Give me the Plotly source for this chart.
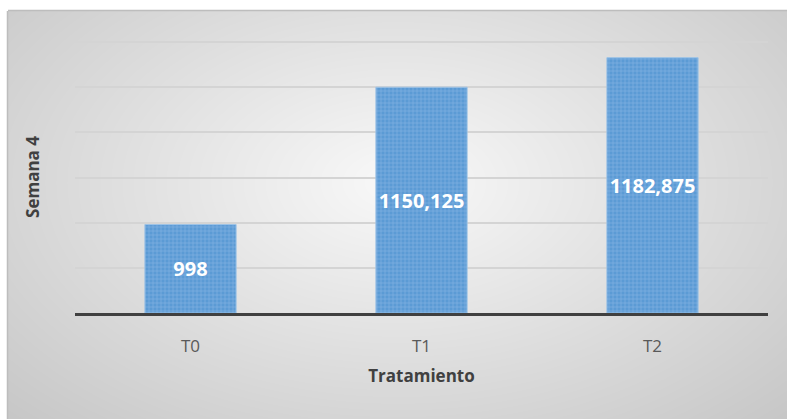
import base64
import struct
import zlib

import numpy as np
import plotly.graph_objects as go

# Data
tratamientos = ["T0", "T1", "T2"]
semana4 = [998, 1150.125, 1182.875]
etiquetas = [str(v).replace(".", ",") for v in semana4]
eje_min = 900
eje_max = 1200
lineas_guia = [950, 1000, 1050, 1100, 1150, 1200]

W, H = 787, 419
BOX_X0, BOX_Y0 = 8, 11
ML, MR, MT, MB = 75, 19, 41, 106
PW, PH = W - ML - MR, H - MT - MB


def radial_png(w, h):
    """Light-centre radial gradient for the chart area, encoded as PNG."""
    yy, xx = np.mgrid[0:h, 0:w].astype(float)
    cx, cy = w * 0.5, h * 0.42
    r = np.sqrt(((xx - cx) / (w * 0.5)) ** 2 + ((yy - cy) / (h * 0.58)) ** 2) / np.sqrt(2)
    r = np.clip(r, 0, 1)
    c = (249 - 50 * r).astype(np.uint8)
    raw = b"".join(b"\x00" + np.repeat(row[:, None], 3, axis=1).tobytes() for row in c)

    def chunk(tag, data):
        return (struct.pack(">I", len(data)) + tag + data
                + struct.pack(">I", zlib.crc32(tag + data) & 0xFFFFFFFF))

    png = (b"\x89PNG\r\n\x1a\n"
           + chunk(b"IHDR", struct.pack(">IIBBBBB", w, h, 8, 2, 0, 0, 0))
           + chunk(b"IDAT", zlib.compress(raw, 9))
           + chunk(b"IEND", b""))
    return "data:image/png;base64," + base64.b64encode(png).decode()


bg_w, bg_h = W - BOX_X0, H - BOX_Y0

fig = go.Figure(
    go.Bar(
        x=tratamientos,
        y=[v - eje_min for v in semana4],
        base=eje_min,
        width=0.395,
        text=etiquetas,
        textposition="inside",
        insidetextanchor="middle",
        textangle=0,
        constraintext="none",
        textfont=dict(family="Open Sans", size=20, color="white", weight="bold"),
        marker=dict(
            color="#5b9bd5",
            line=dict(color="#9dc3e6", width=1),
            pattern=dict(shape="+", fgcolor="#a8c9ec", bgcolor="#5b9bd5",
                         size=4, solidity=0.3),
        ),
        hoverinfo="skip",
    )
)

fig.add_layout_image(
    dict(source=radial_png(bg_w, bg_h), xref="paper", yref="paper",
         x=-(ML - BOX_X0) / PW, y=1 + (MT - BOX_Y0) / PH,
         sizex=bg_w / PW, sizey=bg_h / PH,
         xanchor="left", yanchor="top", sizing="stretch", layer="below")
)

# Chart-area border (top and left edges visible)
fig.add_shape(type="line", xref="paper", yref="paper",
              x0=-(ML - BOX_X0) / PW, x1=1 + MR / PW,
              y0=1 + (MT - BOX_Y0 + 0.5) / PH, y1=1 + (MT - BOX_Y0 + 0.5) / PH,
              line=dict(color="#bdbdbd", width=1.5))
fig.add_shape(type="line", xref="paper", yref="paper",
              x0=-(ML - BOX_X0 + 0.5) / PW, x1=-(ML - BOX_X0 + 0.5) / PW,
              y0=-MB / PH, y1=1 + (MT - BOX_Y0) / PH,
              line=dict(color="#bdbdbd", width=1.5))

fig.update_layout(
    width=W,
    height=H,
    margin=dict(l=ML, r=MR, t=MT, b=MB),
    paper_bgcolor="white",
    plot_bgcolor="rgba(0,0,0,0)",
    showlegend=False,
    font=dict(family="Open Sans", color="#595959"),
    xaxis=dict(
        showgrid=False,
        showline=True,
        linecolor="#404040",
        linewidth=3,
        tickfont=dict(size=17, color="#595959"),
        ticks="outside",
        ticklen=16,
        tickcolor="rgba(0,0,0,0)",
        title=dict(text="Tratamiento", font=dict(size=17, color="#404040", weight="bold"),
                   standoff=14),
    ),
    yaxis=dict(
        range=[eje_min, eje_max + 300 / PH * 1.2],
        tickvals=lineas_guia,
        showgrid=True,
        gridcolor="#d4d4d4",
        gridwidth=1.5,
        zeroline=False,
        showticklabels=False,
        ticks="",
        title=dict(text="Semana 4", font=dict(size=17, color="#404040", weight="bold"),
                   standoff=30),
    ),
)

fig.write_html("out.html")
